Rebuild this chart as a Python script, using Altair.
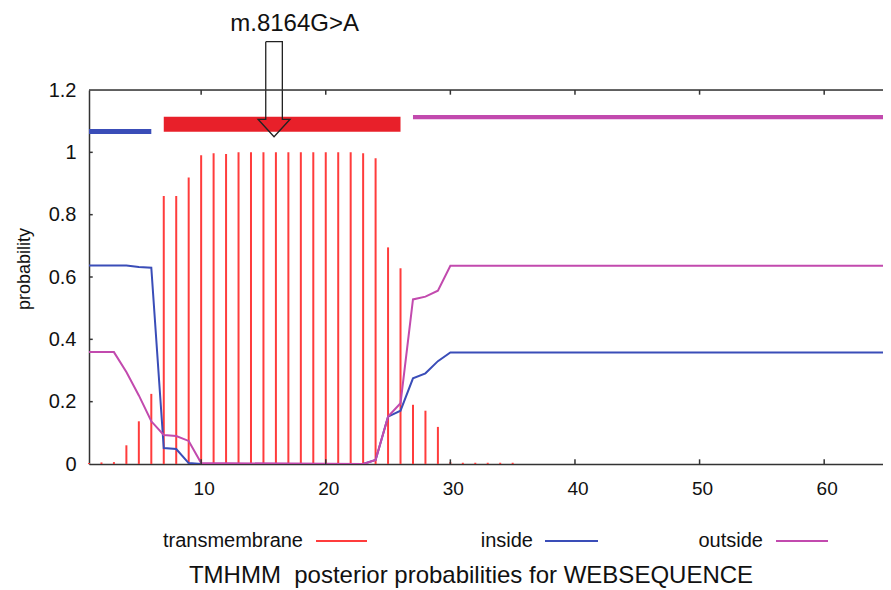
import altair as alt
import pandas as pd

# ---------------- data ----------------
tm_pos = list(range(1, 36))
tm_prob = [0.003, 0.005, 0.006, 0.06, 0.137, 0.225, 0.86, 0.86, 0.919, 0.991,
           0.997, 0.995, 1.0, 1.0, 1.0, 1.0, 1.0, 1.0, 1.0, 1.0,
           1.0, 1.0, 0.997, 0.981, 0.695, 0.628, 0.19, 0.171, 0.119, 0.006,
           0.004, 0.004, 0.004, 0.004, 0.004]

in_pos = [1, 4, 5, 6, 7, 8, 9, 10, 23, 24, 25, 26, 27, 28, 29, 30, 65]
in_prob = [0.637, 0.637, 0.632, 0.630, 0.051, 0.048, 0.003, 0.0, 0.0, 0.013,
           0.152, 0.171, 0.275, 0.291, 0.330, 0.358, 0.358]

out_pos = [1, 3, 4, 5, 6, 7, 8, 9, 10, 23, 24, 25, 26, 27, 28, 29, 30, 65]
out_prob = [0.359, 0.359, 0.295, 0.22, 0.137, 0.093, 0.090, 0.074, 0.003, 0.0,
            0.013, 0.152, 0.195, 0.528, 0.537, 0.556, 0.636, 0.636]

topo_type = ["inside", "TMhelix", "outside"]
topo_start = [1, 7, 27]
topo_end = [6, 26, 65]

mutation_label = "m.8164G>A"
mutation_pos = 15.85

x_ticks = [10, 20, 30, 40, 50, 60]
y_ticks = [0, 0.2, 0.4, 0.6, 0.8, 1.0, 1.2]

legend_labels = ["transmembrane", "inside", "outside"]
x_title = "TMHMM\u00a0 posterior probabilities for WEBSEQUENCE"
y_title = "probability"

# ---------------- style ----------------
RED = "#ff3c3c"
RED_BOX = "#e8202a"
BLUE = "#3a4db8"
PURPLE = "#c24aae"
AX = "#333333"
FONT = "Liberation Sans"
W, H = 794, 374

xs = alt.Scale(domain=[1, 64.72], nice=False, zero=False)
ys = alt.Scale(domain=[0, 1.2], nice=False, zero=False)

XA = alt.Axis(values=x_ticks, ticks=False, tickSize=0, grid=False, title=None,
              labelFontSize=19, labelPadding=15, labelOffset=2.5, labelColor="#111",
              labelFlush=False, domainColor=AX, domainWidth=1.5)
YA = alt.Axis(values=y_ticks, format="~g", ticks=False, tickSize=0, grid=False,
              title=None, labelFontSize=20, labelPadding=13, labelColor="#111",
              labelFlush=False, domainColor=AX, domainWidth=1.5)


def X(field):
    return alt.X(field, scale=xs, axis=XA)


def Y(field):
    return alt.Y(field, scale=ys, axis=YA)


bars_df = pd.DataFrame({"pos": tm_pos, "prob": tm_prob})
in_df = pd.DataFrame({"pos": in_pos, "prob": in_prob})
out_df = pd.DataFrame({"pos": out_pos, "prob": out_prob})

bars = alt.Chart(bars_df).mark_rule(color=RED, strokeWidth=2).encode(
    x=X("pos:Q"), y=Y("prob:Q"), y2=alt.datum(0))

inside = alt.Chart(in_df).mark_line(color=BLUE, strokeWidth=2, clip=True).encode(
    x=X("pos:Q"), y=Y("prob:Q"))
outside = alt.Chart(out_df).mark_line(color=PURPLE, strokeWidth=2, clip=True).encode(
    x=X("pos:Q"), y=Y("prob:Q"))

# topology bar above the curves
band = {"inside": (1.059, 1.075), "TMhelix": (1.066, 1.114), "outside": (1.106, 1.120)}
topo_df = pd.DataFrame({
    "type": topo_type, "start": topo_start, "end": topo_end,
    "y0": [band[t][0] for t in topo_type], "y1": [band[t][1] for t in topo_type],
})
topo = alt.Chart(topo_df).mark_rect(clip=True).encode(
    x=X("start:Q"), x2="end:Q", y=Y("y0:Q"), y2="y1:Q",
    color=alt.Color("type:N", scale=alt.Scale(domain=topo_type, range=[BLUE, RED_BOX, PURPLE]), legend=None),
)

# hollow arrow marking the mutation
s, h = 0.666, 1.284
y_top, y_head, y_tip = 1.355, 1.106, 1.050
ax = mutation_pos
arrow_df = pd.DataFrame({
    "o": list(range(8)),
    "x": [ax - s, ax + s, ax + s, ax + h, ax, ax - h, ax - s, ax - s],
    "y": [y_top, y_top, y_head, y_head, y_tip, y_head, y_head, y_top],
})
arrow = alt.Chart(arrow_df).mark_line(color="#222", strokeWidth=1.3, clip=False).encode(
    x=X("x:Q"), y=Y("y:Q"), order="o:Q")

ann = alt.Chart(pd.DataFrame({"t": [mutation_label], "x": [ax + 1.65], "y": [1.412]})).mark_text(
    fontSize=24, font=FONT, color="#111", align="center", baseline="middle", clip=False
).encode(x=X("x:Q"), y=Y("y:Q"), text="t:N")

# frame: top border and inward ticks
top_rule = alt.Chart(pd.DataFrame({"y": [1.2]})).mark_rule(color=AX, strokeWidth=1.5).encode(
    y=Y("y:Q"))
xt_df = pd.DataFrame({"t": x_ticks})
bot_ticks = alt.Chart(xt_df).mark_rule(color=AX, strokeWidth=1.5).encode(
    x=X("t:Q"), y=alt.datum(0), y2=alt.datum(0.015))
top_ticks = alt.Chart(xt_df).mark_rule(color=AX, strokeWidth=1.5).encode(
    x=X("t:Q"), y=alt.datum(1.2), y2=alt.datum(1.185))
yt_df = pd.DataFrame({"t": y_ticks[1:-1]})
left_ticks = alt.Chart(yt_df).mark_rule(color=AX, strokeWidth=1.5).encode(
    y=Y("t:Q"), x=alt.datum(1), x2=alt.datum(1.3))

# texts: y title, legend, bottom title
texts = []
texts.append(alt.Chart(pd.DataFrame({"t": [y_title]})).mark_text(
    fontSize=18, font=FONT, color="#111", angle=270, align="center", baseline="middle"
).encode(x=alt.value(-64), y=alt.value(179), text="t:N"))

leg_colors = [RED, BLUE, PURPLE]
leg_text_right = [214, 444, 674]
leg_line = [(227, 278), (456, 509), (687, 739)]
LEG_Y = 451
for lab, col, tr, (l0, l1) in zip(legend_labels, leg_colors, leg_text_right, leg_line):
    texts.append(alt.Chart(pd.DataFrame({"t": [lab]})).mark_text(
        fontSize=20, font=FONT, color="#111", align="right", baseline="middle"
    ).encode(x=alt.value(tr), y=alt.value(LEG_Y), text="t:N"))
    texts.append(alt.Chart(pd.DataFrame({"t": [lab]})).mark_rule(color=col, strokeWidth=2).encode(
        x=alt.value(l0), x2=alt.value(l1), y=alt.value(LEG_Y)))

texts.append(alt.Chart(pd.DataFrame({"t": [x_title]})).mark_text(
    fontSize=24, font=FONT, color="#111", align="center", baseline="alphabetic"
).encode(x=alt.value(382), y=alt.value(493), text="t:N"))

chart = alt.layer(
    bars, inside, outside, topo, arrow, ann, top_rule, bot_ticks, top_ticks, left_ticks, *texts
).properties(
    width=W, height=H,
    padding={"left": 81, "top": 82, "right": 0, "bottom": 124},
    autosize=alt.AutoSizeParams(type="none"),
    background="white",
).configure_view(stroke=None).configure(font=FONT)

chart.save("out.html", embed_options={"renderer": "svg", "actions": False})
